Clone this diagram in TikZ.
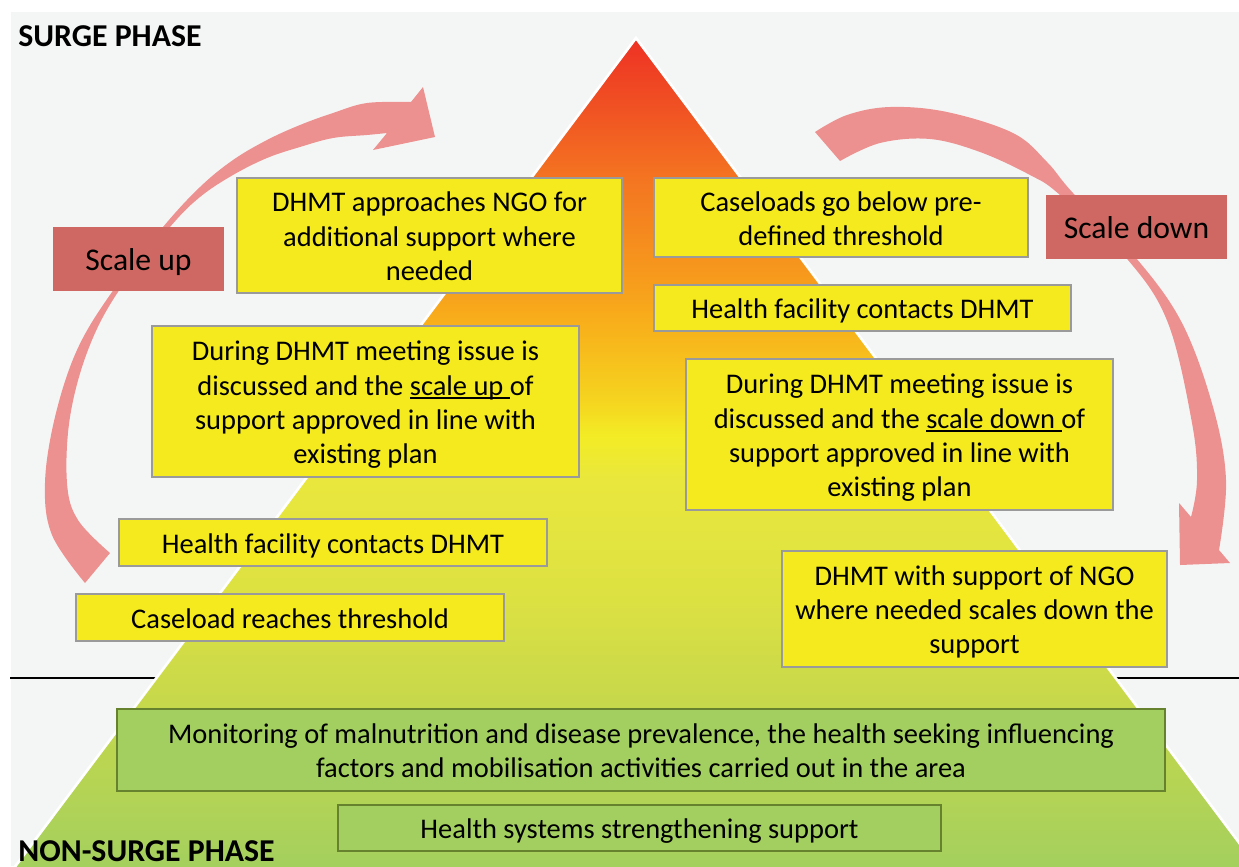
\documentclass[tikz,border=0pt]{standalone}
\usepackage{fontspec}
\setmainfont{Carlito}
\definecolor{bgc}{HTML}{F4F6F5}
\definecolor{boxy}{HTML}{F4EA1E}
\definecolor{boxline}{HTML}{9A9A9A}
\definecolor{gfill}{HTML}{A2CF5F}
\definecolor{gline}{HTML}{66822E}
\definecolor{scalec}{HTML}{CF6862}
\definecolor{arrc}{HTML}{EC9190}
\definecolor{pG}{HTML}{A1CF5F}
\definecolor{pYGb}{HTML}{C7D84B}
\definecolor{pYGa}{HTML}{DCE142}
\definecolor{pYb}{HTML}{E9E73D}
\definecolor{pYa}{HTML}{F3EC25}
\definecolor{pYO}{HTML}{F5D41F}
\definecolor{pOa}{HTML}{F8B21B}
\definecolor{pOb}{HTML}{F79C1C}
\definecolor{pOc}{HTML}{F5881F}
\definecolor{pOd}{HTML}{F47521}
\definecolor{pRb}{HTML}{F04E23}
\definecolor{pR}{HTML}{EE3124}
\pgfdeclareverticalshading{pyr}{100bp}{color(0bp)=(pG); color(25bp)=(pG); color(35.7bp)=(pYGb); color(41.6bp)=(pYGa); color(48.75bp)=(pYb); color(51.4bp)=(pYa); color(53.5bp)=(pYO); color(57.7bp)=(pOa); color(60.6bp)=(pOb); color(63.6bp)=(pOc); color(66.6bp)=(pOd); color(71.3bp)=(pRb); color(75bp)=(pR); color(100bp)=(pR)}
\newcommand\ulx[1]{\setbox0=\hbox{#1}\rlap{\rule[-2pt]{\wd0}{0.9pt}}\box0}
\newcommand\boxtxt[1]{\raisebox{-2.2pt}[\height][\depth]{\begin{tabular}{@{}c@{}}#1\end{tabular}}}
\tikzset{
  ybox/.style={draw=boxline, line width=0.9pt, fill=boxy, inner sep=0pt,
    font=\fontsize{16.2}{19.5}\selectfont},
  gbox/.style={draw=gline, line width=0.9pt, fill=gfill, inner sep=0pt,
    font=\fontsize{16.2}{19.5}\selectfont},
  sbox/.style={fill=scalec, inner sep=0pt, font=\fontsize{18}{21}\selectfont},
  title/.style={anchor=base west, inner sep=0pt, font=\fontsize{18.1}{21}\selectfont\bfseries},
}
\begin{document}
\begin{tikzpicture}[x=0.02cm, y=-0.02cm]
\useasboundingbox (0,0) rectangle (1239,866);
\fill[white] (0,0) rectangle (1239,866);
\fill[bgc] (11,12) rectangle (1239,866);
% separator line
\coordinate (lineL) at (10,678);
\coordinate (lineR) at (1239,678);
\draw[line width=1.2pt] (lineL) -- (lineR);
% pyramid
\shade[shading=pyr] (636,38) -- (5,880) -- (1267,880) -- cycle;
\draw[white, line width=1.5pt, line join=miter] (636,38) -- (5,880) -- (1267,880) -- cycle;
% left curved arrow (scale up)
\fill[arrc] plot[smooth, tension=0.6] coordinates {(85,583) (52,535) (45,483) (55,417) (77,350) (112,292) (163,227) (200,187) (233,160) (267,140) (300,125) (333,113) (367,103) (411,102)}
  -- (423,87) -- (435,137) -- (373,150) --
  plot[smooth, tension=0.6] coordinates {(387,133) (367,135) (333,138) (300,147) (267,158) (233,175) (200,197) (170,227) (118,292) (88,350) (70,417) (67,483) (78,520) (110,553)} -- cycle;
% right curved arrow (scale down)
\fill[arrc] plot[smooth, tension=0.6] coordinates {(815,132) (847,115) (890,107) (947,112) (1013,133) (1047,162) (1073,193) (1136,258) (1182,323) (1213,407) (1226,480) (1219,550)}
  -- (1230,563) -- (1180,565) -- (1179,503) --
  plot[smooth, tension=0.6] coordinates {(1191,517) (1197,480) (1192,423) (1168,323) (1128,260) (1060,195) (1030,175) (980,152) (930,139) (880,143) (840,161)} -- cycle;
% titles
\node[title] (surge) at (18,46) {SURGE PHASE};
\node[title] (nonsurge) at (18,861) {NON-SURGE PHASE};
% scale labels
\node[sbox, minimum width=3.42cm, minimum height=1.28cm] (scaleup) at (138.5,259) {\boxtxt{Scale up}};
\node[sbox, minimum width=3.62cm, minimum height=1.28cm] (scaledown) at (1136.5,227) {\boxtxt{Scale down}};
% yellow boxes
\node[ybox, minimum width=7.70cm, minimum height=2.30cm] (approach) at (429.5,235.5) {\boxtxt{DHMT approaches NGO for\\additional support where\\needed}};
\node[ybox, minimum width=7.48cm, minimum height=1.58cm] (below) at (841,217.5) {\boxtxt{Caseloads go below pre-\\defined threshold}};
\node[ybox, minimum width=8.34cm, minimum height=0.92cm] (contactR) at (862.5,308) {\boxtxt{Health facility contacts DHMT}};
\node[ybox, minimum width=8.54cm, minimum height=3.02cm] (meetUp) at (365.5,401.5) {\boxtxt{During DHMT meeting issue is\\discussed and the \ulx{scale up\ }of\\support approved in line with\\existing plan}};
\node[ybox, minimum width=8.54cm, minimum height=3.02cm] (meetDown) at (899.5,434.5) {\boxtxt{During DHMT meeting issue is\\discussed and the \ulx{scale down\ }of\\support approved in line with\\existing plan}};
\node[ybox, minimum width=8.56cm, minimum height=0.94cm] (contactL) at (333,542.5) {\boxtxt{Health facility contacts DHMT}};
\node[ybox, minimum width=8.56cm, minimum height=0.94cm] (reach) at (290,617.5) {\boxtxt{Caseload reaches threshold}};
\node[ybox, minimum width=7.70cm, minimum height=2.32cm] (scalesdown) at (974.5,609) {\boxtxt{DHMT with support of NGO\\where needed scales down the\\support}};
% green boxes
\node[gbox, minimum width=20.96cm, minimum height=1.64cm] (monitor) at (641,750) {\boxtxt{Monitoring of malnutrition and disease prevalence, the health seeking influencing\\factors and mobilisation activities carried out in the area}};
\node[gbox, minimum width=12.06cm, minimum height=0.92cm] (hss) at (639.5,828) {\boxtxt{Health systems strengthening support}};
\end{tikzpicture}
\end{document}
